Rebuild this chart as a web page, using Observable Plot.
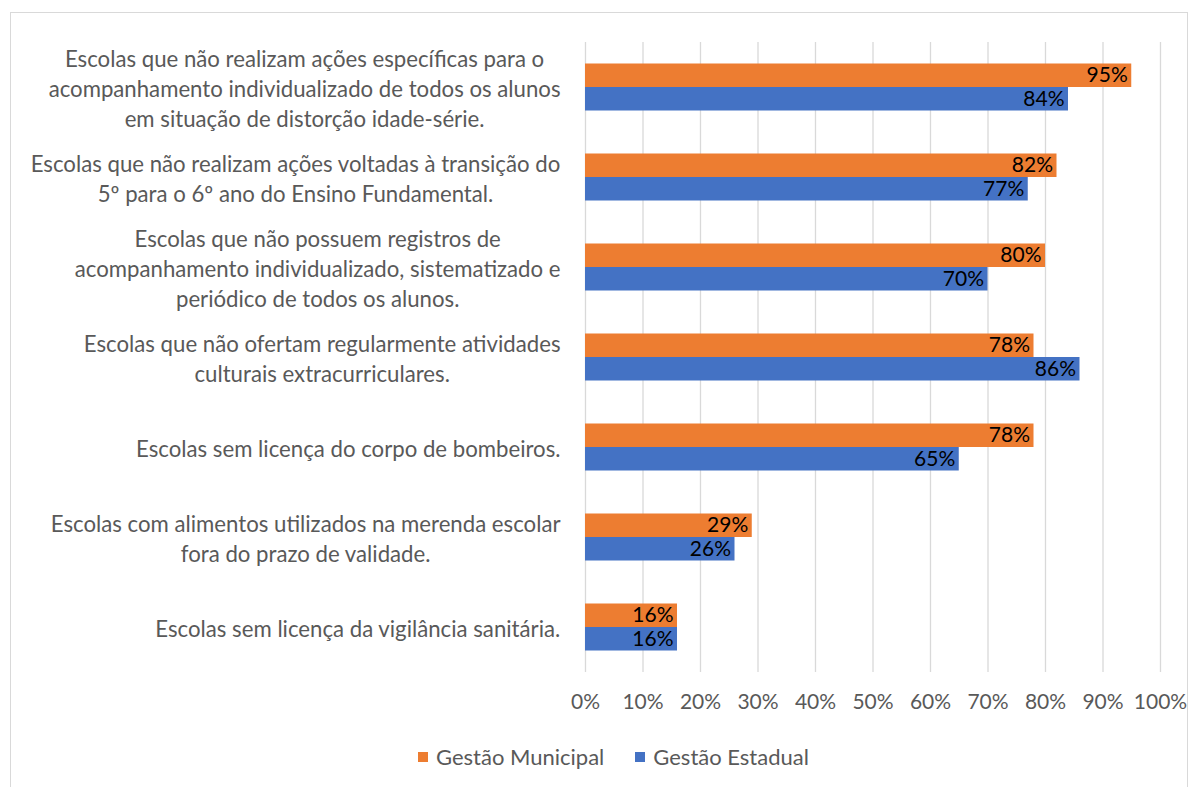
<!DOCTYPE html>
<html>
<head>
<meta charset="utf-8">
<script src="https://cdn.jsdelivr.net/npm/d3@7"></script>
<script src="https://cdn.jsdelivr.net/npm/@observablehq/plot@0.6"></script>
<style>
  html, body { margin: 0; padding: 0; background: #fff; width: 1200px; height: 787px; overflow: hidden; }
  #frame { position: absolute; left: 10px; top: 12px; width: 1178px; height: 800px; border: 1px solid #d9d9d9; box-sizing: border-box; }
  #chart { position: absolute; left: 0; top: 0; }
  #legend { position: absolute; left: 418px; top: 743px; display: flex; align-items: center; font-family: Lato, sans-serif; font-size: 22px; color: #595959; }
  .item { display: flex; align-items: center; margin-right: 31px; }
  .sw { width: 10px; height: 10px; margin-right: 8px; }
</style>
</head>
<body>
<div id="frame"></div>
<div id="chart"></div>
<div id="legend"></div>
<script>
const categories = [
  "Escolas que não realizam ações específicas para o\nacompanhamento individualizado de todos os alunos\nem situação de distorção idade-série.",
  "Escolas que não realizam ações voltadas à transição do\n5º para o 6º ano do Ensino Fundamental.",
  "Escolas que não possuem registros de\nacompanhamento individualizado, sistematizado e\nperiódico de todos os alunos.",
  "Escolas que não ofertam regularmente atividades\nculturais extracurriculares.",
  "Escolas sem licença do corpo de bombeiros.",
  "Escolas com alimentos utilizados na merenda escolar\nfora do prazo de validade.",
  "Escolas sem licença da vigilância sanitária."
];
const seriesNames = ["Gestão Municipal", "Gestão Estadual"];
const municipal = [95, 82, 80, 78, 78, 29, 16];
const estadual = [84, 77, 70, 86, 65, 26, 16];
const xTicks = [0, 10, 20, 30, 40, 50, 60, 70, 80, 90, 100];
const colors = ["#ED7D31", "#4472C4"];

const FONT = "Lato, sans-serif";
const FS_CAT = 22.2;
const FS_VAL = 21;
const FS_TICK = 21;
const rowsM = categories.map((c, i) => ({category: c, value: municipal[i]}));
const rowsE = categories.map((c, i) => ({category: c, value: estadual[i]}));

const ctx = document.createElement("canvas").getContext("2d");
ctx.font = `${FS_CAT}px Lato`;
const blockWidth = c => d3.max(c.split("\n"), l => ctx.measureText(l).width);

const labelMarks = categories.map(c => Plot.text([c], {
  y: d => d, text: d => d, frameAnchor: "left", textAnchor: "middle",
  dx: -(25 + blockWidth(c) / 2), lineHeight: 30 / FS_CAT, fill: "#595959", fontSize: FS_CAT
}));

const chart = Plot.plot({
  width: 1200, height: 730,
  marginTop: 42, marginBottom: 58, marginLeft: 585, marginRight: 40,
  style: {fontFamily: FONT, fontSize: FS_CAT + "px", background: "transparent"},
  x: {domain: [0, 100], axis: null},
  y: {domain: categories, padding: 0, axis: null},
  marks: [
    Plot.ruleX(xTicks, {stroke: "#d9d9d9", strokeWidth: 1.3}),
    Plot.barX(rowsM, {x: "value", y: "category", fill: colors[0], insetTop: 21.5, insetBottom: 45}),
    Plot.barX(rowsE, {x: "value", y: "category", fill: colors[1], insetTop: 45, insetBottom: 21.5}),
    Plot.text(rowsM, {x: "value", y: "category", text: d => d.value + "%", textAnchor: "end", dx: -4, dy: -11.75, fill: "#000", fontSize: FS_VAL}),
    Plot.text(rowsE, {x: "value", y: "category", text: d => d.value + "%", textAnchor: "end", dx: -4, dy: 11.75, fill: "#000", fontSize: FS_VAL}),
    Plot.axisX({ticks: xTicks, tickFormat: d => d + "%", tickSize: 0, tickPadding: 22, fill: "#595959", fontSize: FS_TICK, label: null}),
    ...labelMarks
  ]
});
document.getElementById("chart").appendChild(chart);

const legend = document.getElementById("legend");
seriesNames.forEach((name, i) => {
  const item = document.createElement("div");
  item.className = "item";
  const sw = document.createElement("span");
  sw.className = "sw";
  sw.style.background = colors[i];
  const t = document.createElement("span");
  t.textContent = name;
  item.appendChild(sw); item.appendChild(t);
  legend.appendChild(item);
});
</script>
</body>
</html>
